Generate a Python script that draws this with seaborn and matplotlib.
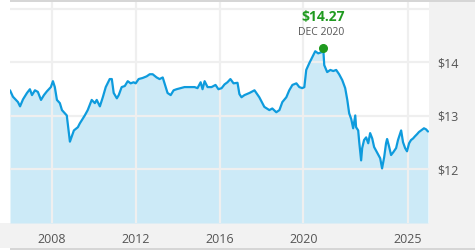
import matplotlib
matplotlib.use("Agg")
import matplotlib.pyplot as plt
from matplotlib.patches import Rectangle
import seaborn as sns
import pandas as pd

# ---- data ----
years = [2006.00, 2006.14, 2006.38, 2006.48, 2006.62, 2006.81, 2006.95, 2007.05, 2007.19, 2007.33,
         2007.48, 2007.62, 2007.76, 2007.95, 2008.05, 2008.14, 2008.24, 2008.38, 2008.48, 2008.57,
         2008.71, 2008.86, 2009.05, 2009.24, 2009.33, 2009.57, 2009.71, 2009.90, 2010.05, 2010.14,
         2010.29, 2010.43, 2010.57, 2010.76, 2010.86, 2010.95, 2011.10, 2011.19, 2011.33, 2011.48,
         2011.62, 2011.76, 2011.90, 2012.00, 2012.14, 2012.33, 2012.52, 2012.67, 2012.81, 2013.00,
         2013.14, 2013.29, 2013.43, 2013.52, 2013.67, 2013.81, 2013.95, 2014.14, 2014.33, 2014.57,
         2014.81, 2014.95, 2015.10, 2015.19, 2015.29, 2015.43, 2015.62, 2015.81, 2015.95, 2016.10,
         2016.24, 2016.38, 2016.52, 2016.67, 2016.86, 2016.95, 2017.05, 2017.19, 2017.43, 2017.67,
         2017.90, 2018.14, 2018.38, 2018.52, 2018.71, 2018.86, 2019.00, 2019.19, 2019.33, 2019.48,
         2019.67, 2019.81, 2019.95, 2020.05, 2020.14, 2020.29, 2020.43, 2020.57, 2020.71, 2020.86,
         2020.95, 2021.00, 2021.14, 2021.29, 2021.43, 2021.57, 2021.71, 2021.86, 2022.00, 2022.10,
         2022.19, 2022.29, 2022.38, 2022.48, 2022.52, 2022.62, 2022.67, 2022.76, 2022.81, 2022.90,
         2023.00, 2023.10, 2023.19, 2023.29, 2023.38, 2023.52, 2023.67, 2023.76, 2023.86, 2023.95,
         2024.00, 2024.10, 2024.19, 2024.29, 2024.43, 2024.52, 2024.67, 2024.76, 2024.86, 2024.95,
         2025.05, 2025.14, 2025.24, 2025.33, 2025.43, 2025.52, 2025.62, 2025.76, 2025.86, 2025.95]
prices = [13.48, 13.36, 13.26, 13.18, 13.31, 13.43, 13.50, 13.39, 13.48, 13.45,
          13.30, 13.39, 13.46, 13.54, 13.65, 13.54, 13.30, 13.24, 13.11, 13.07,
          13.01, 12.52, 12.73, 12.79, 12.86, 13.01, 13.11, 13.30, 13.24, 13.30,
          13.18, 13.35, 13.54, 13.69, 13.69, 13.43, 13.33, 13.39, 13.54, 13.56,
          13.65, 13.61, 13.63, 13.61, 13.69, 13.71, 13.74, 13.78, 13.78, 13.72,
          13.69, 13.72, 13.54, 13.43, 13.39, 13.48, 13.50, 13.52, 13.54, 13.54,
          13.54, 13.52, 13.63, 13.50, 13.65, 13.54, 13.54, 13.58, 13.50, 13.52,
          13.59, 13.63, 13.69, 13.61, 13.62, 13.41, 13.35, 13.39, 13.43, 13.48,
          13.35, 13.17, 13.11, 13.14, 13.07, 13.11, 13.26, 13.35, 13.48, 13.58,
          13.61, 13.54, 13.52, 13.54, 13.86, 13.99, 14.10, 14.21, 14.17, 14.19,
          14.27, 13.95, 13.82, 13.86, 13.84, 13.86, 13.78, 13.67, 13.52, 13.30,
          13.05, 12.94, 12.77, 13.01, 12.79, 12.73, 12.51, 12.17, 12.40, 12.55,
          12.60, 12.49, 12.68, 12.58, 12.42, 12.32, 12.21, 12.02, 12.23, 12.49,
          12.57, 12.42, 12.27, 12.32, 12.40, 12.55, 12.73, 12.51, 12.40, 12.34,
          12.49, 12.55, 12.58, 12.62, 12.66, 12.70, 12.73, 12.77, 12.75, 12.71]
x_ticks = [2008, 2012, 2016, 2020, 2025]
x_tick_labels = ["2008", "2012", "2016", "2020", "2025"]
y_ticks = [12, 13, 14, 15]
y_tick_labels = ["$12", "$13", "$14", ""]
peak_label = "$14.27"
peak_date_label = "DEC 2020"

df = pd.DataFrame({"year": years, "price": prices})

sns.set_style("white")
plt.rcParams["font.family"] = ["Open Sans", "DejaVu Sans"]

W, H = 475, 250
fig = plt.figure(figsize=(W / 100, H / 100), dpi=100)
fig.patch.set_facecolor("white")

# background panels
bg = "#F2F2F2"
edge = "#D6D6D6"
fig.add_artist(Rectangle((0, 2 / H), 1, 25 / H, transform=fig.transFigure, color=bg, zorder=-10, lw=0))
fig.add_artist(Rectangle((429 / W, 0), 46 / W, 1, transform=fig.transFigure, color=bg, zorder=-10, lw=0))
fig.add_artist(Rectangle((10 / W, 0), 1, 2 / H, transform=fig.transFigure, color=edge, zorder=-9, lw=0))
fig.add_artist(Rectangle((10 / W, 248 / H), 1, 2 / H, transform=fig.transFigure, color=edge, zorder=-9, lw=0))

ax = fig.add_axes([10 / W, 27 / H, 419 / W, 221 / H])
ax.set_facecolor("white")

line_color = "#0E9BDD"
fill_color = "#CCEAF7"

ax.fill_between(df["year"], df["price"], 11, color=fill_color, lw=0, zorder=1)
sns.lineplot(data=df, x="year", y="price", ax=ax, color=line_color, lw=1.6, zorder=3)

ax.set_xlim(2006, 2026)
ax.set_ylim(11, 15.13)

ax.grid(True, color="#EFEFEF", lw=1.6, zorder=2)
ax.set_axisbelow(False)
for gl in ax.get_xgridlines() + ax.get_ygridlines():
    gl.set_zorder(2)

ax.set_xticks(x_ticks)
ax.set_xticklabels(x_tick_labels)
ax.yaxis.tick_right()
ax.set_yticks(y_ticks)
ax.set_yticklabels(y_tick_labels)
ax.tick_params(axis="x", length=0, pad=7, labelsize=9, labelcolor="#555555")
ax.tick_params(axis="y", length=0, pad=6, labelsize=9, labelcolor="#555555")
ax.set_xlabel("")
ax.set_ylabel("")
for s in ax.spines.values():
    s.set_visible(False)

# peak marker and annotation
i_peak = int(df["price"].idxmax())
px, py = df["year"][i_peak], df["price"][i_peak]
ax.plot([px], [py], "o", color="#1F9A1F", ms=5.5, zorder=5)
ax.annotate(peak_label, (px, py), xytext=(0, 22), textcoords="offset points",
            ha="center", va="center", fontsize=10, fontweight="bold", color="#1F9A1F")
ax.annotate(peak_date_label, (px, py), xytext=(-1.5, 11.5), textcoords="offset points",
            ha="center", va="center", fontsize=7.5, color="#555555")

fig.savefig("out.png", dpi=100)
